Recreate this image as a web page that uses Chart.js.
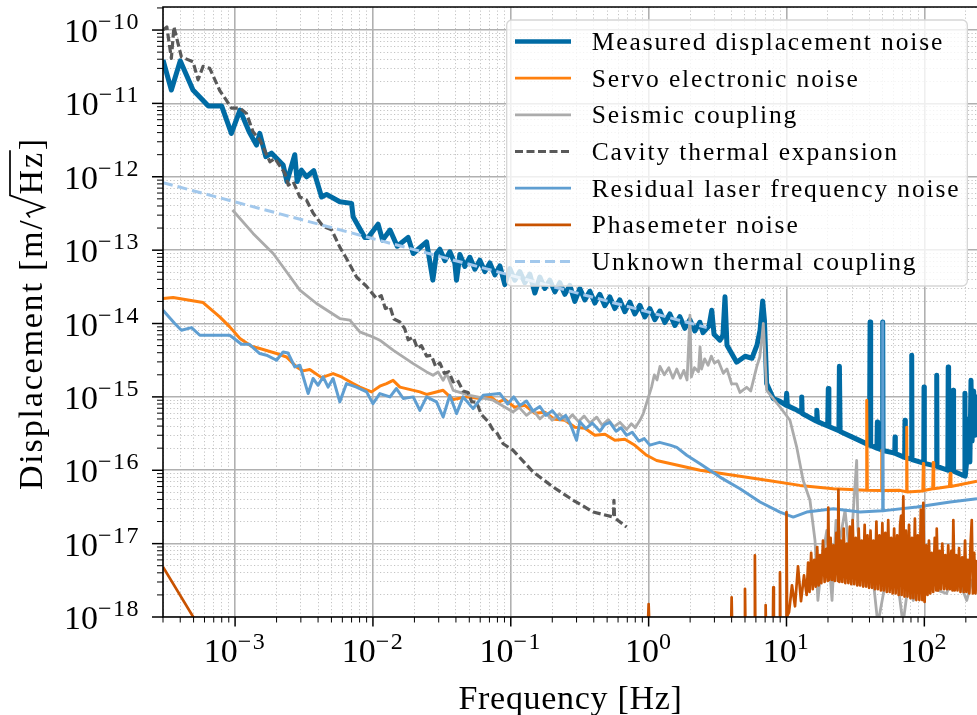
<!DOCTYPE html>
<html>
<head>
<meta charset="utf-8">
<script src="https://cdn.jsdelivr.net/npm/chart.js@4.4.1/dist/chart.umd.min.js"></script>
<style>
html, body { margin: 0; padding: 0; background: #fff; overflow: hidden; }
</style>
</head>
<body>
<canvas id="noiseChart" width="977" height="715"></canvas>
<script>
// axis ranges and tick labels (powers of ten)
var xMin = 3e-4, xMax = 241;
var yMin = 1e-18, yMax = 2.06e-10;
var xTickExps = [-3, -2, -1, 0, 1, 2];
var yTickExps = [-18, -17, -16, -15, -14, -13, -12, -11, -10];
var minorSteps = [2, 3, 4, 5, 6, 7, 8, 9];

// [frequency Hz, displacement m/sqrt(Hz)]
var measured = [
	[3.0e-4, 3.9e-11], [3.45e-4, 1.52e-11], [4.0e-4, 3.8e-11], [4.95e-4, 1.52e-11], [6.4e-4, 9.2e-12],
	[8.0e-4, 9.2e-12], [9.4e-4, 3.9e-12], [1.085e-3, 8.1e-12], [1.265e-3, 4.1e-12], [1.43e-3, 2.7e-12],
	[1.51e-3, 3.9e-12], [1.67e-3, 1.88e-12], [1.84e-3, 2.1e-12], [2.23e-3, 1.45e-12], [2.38e-3, 8.6e-13],
	[2.71e-3, 2.0e-12], [2.82e-3, 8.6e-13], [3.03e-3, 1.23e-12], [3.30e-3, 1.0e-12], [3.72e-3, 1.21e-12],
	[4.24e-3, 5.3e-13], [4.61e-3, 5.75e-13], [5.75e-3, 4.56e-13], [7.0e-3, 4.34e-13], [7.18e-3, 2.85e-13],
	[8.73e-3, 1.49e-13], [9.23e-3, 1.49e-13], [1.09e-2, 2.26e-13], [1.175e-2, 1.37e-13], [1.33e-2, 1.88e-13],
	[1.50e-2, 1.13e-13], [1.80e-2, 1.49e-13], [1.96e-2, 9.0e-14], [2.45e-2, 1.30e-13], [2.72e-2, 3.9e-14],
	[2.89e-2, 9.0e-14], [3.058e-2, 1.03e-13], [3.324e-2, 7.2e-14], [3.614e-2, 9.5e-14], [3.929e-2, 6.6e-14],
	[4.04e-2, 3.9e-14], [4.271e-2, 8.7e-14], [4.643e-2, 6.0e-14], [5.047e-2, 8.0e-14], [5.487e-2, 5.5e-14],
	[5.965e-2, 7.3e-14], [6.484e-2, 5.1e-14], [7.049e-2, 6.7e-14], [7.663e-2, 4.6e-14], [8.331e-2, 6.1e-14],
	[9.056e-2, 3.4e-14], [9.845e-2, 5.6e-14], [0.107, 3.9e-14], [0.1163, 5.1e-14], [0.1265, 3.6e-14],
	[0.1375, 4.7e-14], [0.1495, 2.6e-14], [0.1625, 4.3e-14], [0.1766, 3.0e-14], [0.192, 3.9e-14],
	[0.2087, 2.7e-14], [0.2269, 3.6e-14], [0.2467, 2.5e-14], [0.2682, 3.3e-14], [0.2915, 2.0e-14],
	[0.3169, 3.0e-14], [0.3445, 2.1e-14], [0.3745, 2.75e-14], [0.4071, 1.9e-14], [0.4426, 2.5e-14],
	[0.4811, 1.75e-14], [0.523, 2.3e-14], [0.5686, 1.6e-14], [0.6181, 2.1e-14], [0.6719, 1.45e-14],
	[0.7305, 1.95e-14], [0.7941, 1.35e-14], [0.8633, 1.77e-14], [0.9385, 1.23e-14], [1.02, 1.6e-14],
	[1.109, 1.13e-14], [1.206, 1.48e-14], [1.311, 1.03e-14], [1.425, 1.35e-14], [1.549, 9.4e-15],
	[1.684, 1.24e-14], [1.831, 8.6e-15], [1.99, 1.13e-14], [2.163, 7.9e-15], [2.352, 1.04e-14],
	[2.48, 7.5e-15], [2.74, 9.2e-15], [2.87, 1.52e-14], [2.98, 7.15e-15], [3.29, 5.92e-15],
	[3.46, 6.92e-15], [3.58, 2.31e-14], [3.70, 5.06e-15], [4.35, 2.97e-15], [5.01, 3.58e-15],
	[5.62, 3.36e-15], [6.11, 5.06e-15], [6.43, 8.1e-15], [6.72, 2.03e-14], [6.92, 1.11e-14],
	[7.18, 1.52e-15], [8.02, 9.5e-16], [8.97, 8.7e-16], [9.9, 7.7e-16], [10.03, 1.12e-15],
	[10.15, 7.6e-16], [11.53, 6.8e-16], [12.8, 6.1e-16], [12.9, 1.0e-15], [13.0, 5.95e-16],
	[16.4, 4.7e-16], [16.6, 6.56e-16], [16.8, 4.6e-16], [19.9, 4.0e-16], [20.1, 1.3e-15],
	[20.3, 3.95e-16], [24.0, 3.45e-16], [24.2, 2.61e-15], [24.5, 3.38e-16], [31.4, 2.72e-16],
	[40.0, 2.2e-16], [40.4, 1.05e-14], [40.8, 2.18e-16], [45.3, 2.0e-16], [45.6, 4.54e-16],
	[45.9, 1.98e-16], [49.6, 1.88e-16], [49.9, 1.05e-14], [50.2, 1.86e-16], [61.0, 1.71e-16],
	[61.3, 2.84e-16], [61.6, 1.69e-16], [72.0, 1.5e-16], [72.4, 4.8e-16], [72.8, 1.49e-16],
	[80.6, 1.42e-16], [81.0, 3.7e-15], [81.4, 1.40e-16], [99.0, 1.25e-16], [99.5, 1.36e-15],
	[100.0, 1.24e-16], [122.4, 1.14e-16], [123, 1.97e-15], [123.6, 1.13e-16], [148, 1.0e-16],
	[149, 2.56e-15], [150, 1.0e-16], [161, 9.8e-17], [162, 1.23e-15], [163, 9.7e-17],
	[196, 8.35e-17], [197, 1.12e-15], [198, 8.3e-17], [205, 1.6e-16], [210, 5e-16],
	[214, 1.3e-16], [218, 1.68e-15], [222, 2.5e-16], [228, 1.2e-15], [233, 3e-16],
	[238, 1.0e-15], [241, 5e-16]
];

var servo = [
	[3.0e-4, 2.19e-14], [3.55e-4, 2.26e-14], [5.86e-4, 1.93e-14], [7.74e-4, 1.23e-14], [9.15e-4, 9.0e-15],
	[1.085e-3, 6.24e-15], [1.315e-3, 4.9e-15], [1.51e-3, 4.56e-15], [2.0e-3, 3.9e-15], [2.36e-3, 3.5e-15],
	[2.79e-3, 2.56e-15], [3.11e-3, 2.26e-15], [3.48e-3, 2.36e-15], [4.24e-3, 1.83e-15], [5.14e-3, 2.08e-15],
	[5.92e-3, 1.87e-15], [7.18e-3, 1.52e-15], [8.03e-3, 1.36e-15], [9.77e-3, 1.17e-15], [1.122e-2, 1.40e-15],
	[1.255e-2, 1.52e-15], [1.40e-2, 1.68e-15], [1.57e-2, 1.36e-15], [2.19e-2, 1.17e-15], [2.45e-2, 1.08e-15],
	[3.23e-2, 1.23e-15], [3.82e-2, 9.2e-16], [4.78e-2, 1.0e-15], [5.97e-2, 9.5e-16], [7.05e-2, 1.02e-15],
	[8.06e-2, 8.43e-16], [9.06e-2, 9.27e-16], [0.107, 7.21e-16], [0.1265, 7.68e-16], [0.1496, 5.97e-16],
	[0.1768, 6.17e-16], [0.209, 4.94e-16], [0.247, 4.8e-16], [0.292, 3.85e-16], [0.345, 3.73e-16],
	[0.407, 3.0e-16], [0.482, 3.09e-16], [0.569, 2.56e-16], [0.672, 2.64e-16], [0.795, 2.19e-16],
	[0.967, 1.6e-16], [1.143, 1.36e-16], [2.36, 1.0e-16], [4.11, 8.55e-17], [7.18, 7.3e-17],
	[12.5, 6.22e-17], [21.9, 5.6e-17], [37.8, 5.32e-17], [38.2, 9.0e-16], [38.6, 5.32e-17],
	[48.7, 5.3e-17], [49.1, 1.87e-16], [49.5, 5.3e-17], [66.6, 5.32e-17], [74.0, 5.1e-17],
	[74.5, 3.85e-16], [75.0, 5.05e-17], [97.5, 5.2e-17], [98.3, 1.24e-16], [99.0, 5.3e-17],
	[115, 5.6e-17], [116, 1.28e-16], [117, 5.6e-17], [152, 6.0e-17], [154, 9.1e-17],
	[156, 6.0e-17], [241, 7.08e-17]
];

var seismic = [
	[9.58e-4, 3.52e-13], [1.35e-3, 1.69e-13], [1.89e-3, 9.0e-14], [2.23e-3, 5.9e-14], [2.95e-3, 2.85e-14],
	[3.9e-3, 1.875e-14], [5.75e-3, 1.17e-14], [6.8e-3, 1.11e-14], [8.03e-3, 7.68e-15], [1.0e-2, 6.56e-15],
	[1.122e-2, 5.92e-15], [1.40e-2, 4.33e-15], [1.96e-2, 2.84e-15], [2.45e-2, 2.19e-15], [2.73e-2, 1.97e-15],
	[2.97e-2, 2.19e-15], [3.23e-2, 1.68e-15], [3.42e-2, 2.08e-15], [3.82e-2, 1.23e-15], [5.05e-2, 1.05e-15],
	[7.45e-2, 9.0e-16], [0.104, 6.23e-16], [0.115, 7.2e-16], [0.13, 5.6e-16], [0.145, 6.6e-16],
	[0.1626, 5.0e-16], [0.18, 6.0e-16], [0.2, 4.8e-16], [0.225, 5.9e-16], [0.254, 4.7e-16],
	[0.28, 5.7e-16], [0.31, 4.6e-16], [0.34, 5.5e-16], [0.375, 4.4e-16], [0.42, 5.3e-16],
	[0.46, 4.1e-16], [0.51, 4.9e-16], [0.56, 3.9e-16], [0.62, 4.5e-16], [0.692, 3.6e-16],
	[0.75, 4.3e-16], [0.8, 3.8e-16], [0.865, 4.8e-16], [0.914, 5.92e-16], [1.05, 1.36e-15],
	[1.1, 2.0e-15], [1.15, 1.7e-15], [1.208, 2.6e-15], [1.3, 2.0e-15], [1.4, 2.5e-15],
	[1.5, 1.8e-15], [1.6, 2.4e-15], [1.7, 1.8e-15], [1.8, 2.3e-15], [1.9, 1.7e-15],
	[1.994, 1.3e-14], [2.04, 1.87e-15], [2.15, 2.5e-15], [2.3, 2.2e-15], [2.36, 4.8e-15],
	[2.42, 2.4e-15], [2.55, 3.3e-15], [2.7, 2.7e-15], [2.85, 3.6e-15], [3.0, 2.9e-15],
	[3.2, 3.1e-15], [3.48, 2.1e-15], [3.7, 2.4e-15], [4.0, 1.5e-15], [4.35, 1.5e-15],
	[4.6, 1.15e-15], [5.14, 1.35e-15], [5.5, 1.2e-15], [6.08, 2.56e-15], [6.4, 3.5e-15],
	[6.61, 5.92e-15], [6.79, 1.0e-14], [7.18, 1.23e-15], [8.97, 7.28e-16], [10.6, 4.8e-16],
	[11.86, 2.07e-16], [13.2, 7.3e-17], [14.8, 3.9e-17], [16.1, 1.11e-17], [16.9, 1.68e-18],
	[18.09, 5.94e-18], [19.6, 1.51e-17], [21.4, 1.68e-18], [22.87, 2.08e-17], [24.4, 1.11e-17],
	[26.6, 2.86e-17], [28.9, 5.94e-18], [32.3, 1.36e-16], [33.0, 1.52e-17], [35.9, 3.7e-18],
	[39.0, 1.11e-17], [42.6, 3.16e-18], [46.0, 8e-19], [51.0, 2.31e-18], [56.4, 5.94e-18],
	[63.0, 3.92e-18], [70.0, 8e-19], [76.2, 2.71e-18], [83.2, 1.68e-18], [93.1, 3.7e-18],
	[110, 7.35e-18], [125.7, 2.31e-18], [145, 2.09e-18], [167, 4.34e-18], [203, 1.68e-18],
	[222, 3.16e-18], [241, 3.92e-18]
];

var cavity = [
	[3.0e-4, 1.0e-10], [3.2e-4, 1.1e-10], [3.45e-4, 4.1e-11], [3.6e-4, 1.1e-10], [4.08e-4, 4.3e-11],
	[4.95e-4, 3.7e-11], [5.39e-4, 2.1e-11], [5.86e-4, 3.2e-11], [6.55e-4, 3.0e-11], [7.74e-4, 1.5e-11],
	[8.66e-4, 1.1e-11], [9.41e-4, 8.6e-12], [1.085e-3, 8.6e-12], [1.21e-3, 7.3e-12], [1.35e-3, 4.1e-12],
	[1.51e-3, 3.2e-12], [1.79e-3, 1.6e-12], [1.94e-3, 1.78e-12], [2.30e-3, 1.11e-12], [2.43e-3, 7.7e-13],
	[2.64e-3, 8.55e-13], [2.95e-3, 5.3e-13], [3.30e-3, 4.8e-13], [3.68e-3, 3.2e-13], [4.35e-3, 2.1e-13],
	[5.01e-3, 1.9e-13], [5.75e-3, 1.1e-13], [6.43e-3, 7.7e-14], [7.6e-3, 4.3e-14], [9.0e-3, 3.2e-14],
	[1.06e-2, 2.2e-14], [1.15e-2, 2.4e-14], [1.23e-2, 1.6e-14], [1.33e-2, 1.7e-14], [1.42e-2, 1.15e-14],
	[1.57e-2, 1.05e-14], [1.7e-2, 8.5e-15], [1.8e-2, 6.0e-15], [1.96e-2, 6.5e-15], [2.1e-2, 4.6e-15],
	[2.25e-2, 5.0e-15], [2.45e-2, 3.6e-15], [2.65e-2, 3.7e-15], [2.85e-2, 2.6e-15], [3.06e-2, 2.9e-15],
	[3.3e-2, 2.1e-15], [3.55e-2, 2.2e-15], [3.82e-2, 1.6e-15], [4.1e-2, 1.7e-15], [4.51e-2, 1.2e-15],
	[4.9e-2, 1.15e-15], [5.2e-2, 8.6e-16], [5.65e-2, 8.4e-16], [6.1e-2, 5.8e-16], [6.86e-2, 4.6e-16],
	[7.4e-2, 3.6e-16], [7.88e-2, 3.3e-16], [8.8e-2, 2.3e-16], [0.104, 1.87e-16], [0.145, 9.5e-17],
	[0.203, 5.9e-17], [0.284, 3.9e-17], [0.396, 2.7e-17], [0.556, 2.3e-17], [0.56, 3.9e-17],
	[0.566, 2.25e-17], [0.692, 1.68e-17]
];

var residual = [
	[3.0e-4, 1.52e-14], [3.65e-4, 1.0e-14], [4.08e-4, 8.1e-15], [4.83e-4, 8.8e-15], [5.55e-4, 6.92e-15],
	[9.15e-4, 6.92e-15], [1.113e-3, 5.22e-15], [1.264e-3, 5.22e-15], [1.51e-3, 3.9e-15], [1.69e-3, 3.7e-15],
	[2.0e-3, 3.16e-15], [2.23e-3, 4.1e-15], [2.42e-3, 3.97e-15], [2.71e-3, 2.56e-15], [2.95e-3, 2.7e-15],
	[3.39e-3, 1.11e-15], [3.68e-3, 1.78e-15], [4.0e-3, 1.44e-15], [4.35e-3, 1.87e-15], [4.73e-3, 1.36e-15],
	[5.14e-3, 1.78e-15], [5.75e-3, 8.55e-16], [6.43e-3, 1.52e-15], [7.6e-3, 1.36e-15], [9.0e-3, 1.17e-15],
	[1.0e-2, 8.1e-16], [1.122e-2, 1.11e-15], [1.33e-2, 1.0e-15], [1.48e-2, 1.30e-15], [1.66e-2, 9.5e-16],
	[1.96e-2, 1.0e-15], [2.19e-2, 6.56e-16], [2.45e-2, 1.0e-15], [2.89e-2, 8.55e-16], [3.23e-2, 5.32e-16],
	[3.61e-2, 1.05e-15], [4.04e-2, 5.92e-16], [4.51e-2, 1.0e-15], [5.33e-2, 6.92e-16], [6.3e-2, 1.05e-15],
	[8.34e-2, 1.11e-15], [0.095, 8.0e-16], [0.105, 1.0e-15], [0.1164, 7.6e-16], [0.13, 8.8e-16],
	[0.145, 6.4e-16], [0.1626, 7.4e-16], [0.18, 5.6e-16], [0.2, 6.5e-16], [0.227, 4.9e-16],
	[0.25, 5.6e-16], [0.27, 4.3e-16], [0.30, 2.56e-16], [0.317, 4.6e-16], [0.35, 3.7e-16],
	[0.39, 4.4e-16], [0.443, 3.4e-16], [0.48, 4.2e-16], [0.524, 4.5e-16], [0.58, 3.4e-16],
	[0.63, 3.8e-16], [0.692, 3.0e-16], [0.76, 3.3e-16], [0.85, 2.5e-16], [0.93, 2.7e-16],
	[1.02, 2.2e-16], [1.2, 2.4e-16], [1.43, 2.2e-16], [1.6, 2.05e-16], [1.89, 1.6e-16],
	[2.36, 1.23e-16], [3.29, 8.07e-17], [4.6, 5.6e-17], [6.43, 3.69e-17], [8.97, 2.69e-17],
	[11.2, 2.3e-17], [14.0, 2.69e-17], [21.9, 2.99e-17], [34.2, 2.69e-17], [49.5, 2.8e-17],
	[49.9, 1.05e-14], [50.3, 2.8e-17], [53.3, 2.84e-17], [88.1, 3.15e-17], [154, 3.69e-17],
	[241, 4.1e-17]
];

var phasemeter = [
	[3.0e-4, 4.8e-18], [6.3e-4, 4.8e-19], [0.98, 4.8e-19], [1.0, 1.5e-18], [1.02, 4.8e-19],
	[3.95, 4.8e-19], [4.0, 1.86e-18], [4.05, 4.8e-19], [4.95, 4.8e-19], [5.0, 2.42e-18],
	[5.05, 4.8e-19], [5.85, 4.8e-19], [5.9, 6.9e-18], [5.95, 4.8e-19], [7.0, 4.8e-19],
	[7.06, 1.45e-18], [7.12, 4.8e-19], [7.95, 4.8e-19], [8.02, 2.54e-18], [8.1, 4.8e-19],
	[8.9, 4.8e-19], [8.97, 4.07e-18], [9.05, 4.8e-19], [9.95, 4.8e-19], [10.0, 2.69e-17],
	[10.1, 1.02e-18], [10.43, 1.16e-18], [10.96, 2.71e-18], [11.53, 1.40e-18], [12.12, 4.92e-18],
	[12.74, 1.64e-18], [13.4, 3.7e-18], [14.0, 2.0e-18], [14.35, 5.5e-18], [14.7, 2.2e-18],
	[15.1, 7.5e-18], [15.5, 2.4e-18], [15.9, 6.0e-18], [16.3, 2.6e-18], [16.7, 9.0e-18],
	[17.1, 2.7e-18], [17.5, 7.0e-18], [17.9, 2.9e-18], [18.4, 1.1e-17], [18.9, 3.0e-18],
	[19.4, 8.5e-18], [19.9, 3.1e-18], [20.1, 3.1e-17], [20.4, 3.2e-18], [20.9, 1.2e-17],
	[21.4, 3.2e-18], [21.9, 9.5e-18], [22.4, 3.1e-18], [23.0, 1.4e-17], [23.6, 3.1e-18],
	[23.8, 5.4e-17], [24.2, 3.0e-18], [24.8, 1.1e-17], [25.4, 3.0e-18], [26.0, 1.6e-17],
	[26.7, 2.9e-18], [27.4, 1.0e-17], [28.1, 2.9e-18], [28.8, 1.7e-17], [29.5, 2.8e-18],
	[30.2, 2.1e-17], [31.0, 2.8e-18], [31.8, 1.2e-17], [32.6, 2.7e-18], [33.4, 1.6e-17],
	[34.2, 2.7e-18], [35.1, 1.1e-17], [36.0, 2.6e-18], [36.9, 1.8e-17], [37.8, 2.6e-18],
	[38.7, 1.3e-17], [39.7, 2.5e-18], [40.7, 1.5e-17], [41.7, 2.5e-18], [42.7, 1.1e-17],
	[43.8, 2.4e-18], [44.9, 2.0e-17], [46.0, 2.4e-18], [47.2, 1.3e-17], [48.4, 2.3e-18],
	[49.6, 1.9e-17], [50.8, 2.3e-18], [52.1, 1.4e-17], [53.4, 2.2e-18], [54.7, 2.1e-17],
	[56.1, 2.2e-18], [57.5, 1.2e-17], [58.9, 2.1e-18], [60.4, 1.6e-17], [61.9, 2.1e-18],
	[63.5, 1.3e-17], [65.1, 2.0e-18], [66.7, 1.8e-17], [67.8, 2.4e-17], [68.4, 2.0e-18],
	[70.4, 4.4e-17], [71.8, 1.9e-18], [73.6, 1.5e-17], [75.5, 1.9e-18], [77.4, 1.8e-17],
	[79.3, 1.8e-18], [81.3, 1.2e-17], [83.3, 1.8e-18], [85.4, 2.2e-17], [87.5, 1.7e-18],
	[89.7, 1.3e-17], [92.0, 1.7e-18], [94.3, 2.9e-17], [96.6, 1.7e-18], [98.3, 3.6e-17],
	[100.5, 1.6e-18], [103, 9.5e-18], [105.5, 2.0e-18], [108, 1.1e-17], [110.5, 2.1e-18],
	[113, 7.5e-18], [116, 2.2e-18], [119, 1.2e-17], [122, 2.3e-18], [123, 1.6e-17],
	[126, 2.3e-18], [129, 8e-18], [132, 2.4e-18], [135, 1.0e-17], [139, 2.4e-18],
	[142, 7e-18], [146, 2.4e-18], [149, 9.5e-18], [153, 2.4e-18], [157, 8e-18],
	[160, 2.3e-18], [162.3, 2.1e-17], [166, 2.3e-18], [170, 7e-18], [174, 2.3e-18],
	[178.6, 8.7e-18], [183, 2.2e-18], [188, 6.5e-18], [193, 2.2e-18], [197.4, 1.1e-17],
	[202, 2.2e-18], [207, 6e-18], [212, 2.1e-18], [216, 9e-18], [220.8, 2.1e-17],
	[225, 2.1e-18], [230, 7.5e-18], [235, 2.1e-18], [241, 6e-18]
];

var unknownThermal = [[3.0e-4, 8.3e-13], [2.64, 8.8e-15]];

var serif = '"Liberation Serif", "Times New Roman", serif';

function toXY(list) {
	return list.map(function (p) { return { x: p[0], y: p[1] }; });
}

function logTicks(lo, hi) {
	var out = [];
	var e0 = Math.floor(Math.log10(lo)), e1 = Math.ceil(Math.log10(hi));
	for (var e = e0; e <= e1; e++) {
		[1].concat(minorSteps).forEach(function (m) {
			var v = m * Math.pow(10, e);
			if (v >= lo * 0.999 && v <= hi * 1.001) out.push({ value: v, major: m === 1 });
		});
	}
	return out;
}

function isMajor(c) { return c.tick && c.tick.major; }

function axisOpts(lo, hi) {
	return {
		type: 'logarithmic',
		min: lo,
		max: hi,
		afterBuildTicks: function (scale) { scale.ticks = logTicks(lo, hi); },
		ticks: { display: false },
		border: {
			display: false,
			dash: function (c) { return isMajor(c) ? [] : [1.2, 2.3]; }
		},
		grid: {
			drawTicks: false,
			color: function (c) { return isMajor(c) ? '#b0b0b0' : '#c4c4c4'; },
			lineWidth: function (c) { return isMajor(c) ? 1.6 : 1; }
		}
	};
}

// label text with a superscript power of ten
function drawPow(ctx, exp, x, y, centered) {
	var sup = (exp < 0 ? '\u2212' : '') + Math.abs(exp);
	ctx.font = '34px ' + serif;
	ctx.letterSpacing = '0px';
	var w1 = ctx.measureText('10').width;
	ctx.font = '24px ' + serif;
	ctx.letterSpacing = '1.5px';
	var w2 = ctx.measureText(sup).width;
	var left = centered ? x - (w1 + w2) / 2 : x - w1 - w2;
	ctx.fillText(sup, left + w1, y - 13);
	ctx.font = '34px ' + serif;
	ctx.letterSpacing = '0px';
	ctx.fillText('10', left, y);
}

function fitText(ctx, text, target) {
	ctx.letterSpacing = '0px';
	var w = ctx.measureText(text).width;
	ctx.letterSpacing = ((target - w) / text.length) + 'px';
}

var framePlugin = {
	id: 'frame',
	afterDraw: function (chart) {
		var ctx = chart.ctx, a = chart.chartArea;
		var xs = chart.scales.x, ys = chart.scales.y;
		ctx.save();

		// legend box
		var bx = 506.7, by = 20, bw = 460.6, bh = 266, r = 5;
		ctx.beginPath();
		ctx.moveTo(bx + r, by);
		ctx.arcTo(bx + bw, by, bx + bw, by + bh, r);
		ctx.arcTo(bx + bw, by + bh, bx, by + bh, r);
		ctx.arcTo(bx, by + bh, bx, by, r);
		ctx.arcTo(bx, by, bx + bw, by, r);
		ctx.closePath();
		ctx.fillStyle = 'rgba(255,255,255,0.8)';
		ctx.fill();
		ctx.strokeStyle = '#d6d6d6';
		ctx.lineWidth = 1.3;
		ctx.stroke();

		ctx.font = '25.5px ' + serif;
		fitText(ctx, 'Measured displacement noise', 352.6);
		var spacing = ctx.letterSpacing;
		chart.data.datasets.forEach(function (ds, i) {
			var base = 50 + i * 36.67;
			ctx.setLineDash(ds.borderDash || []);
			ctx.strokeStyle = ds.borderColor;
			ctx.lineWidth = ds.legendWidth;
			ctx.beginPath();
			ctx.moveTo(515, base - 8.5);
			ctx.lineTo(571, base - 8.5);
			ctx.stroke();
			ctx.setLineDash([]);
			ctx.fillStyle = '#000';
			ctx.letterSpacing = spacing;
			ctx.fillText(ds.label, 591.7, base);
		});

		// spines
		ctx.strokeStyle = '#000';
		ctx.lineWidth = 1.6;
		ctx.beginPath();
		ctx.moveTo(a.right + 2, a.top);
		ctx.lineTo(a.left, a.top);
		ctx.lineTo(a.left, a.bottom);
		ctx.lineTo(a.right + 2, a.bottom);
		ctx.stroke();

		// tick marks
		xs.ticks.forEach(function (t) {
			var px = xs.getPixelForValue(t.value);
			if (px < a.left - 0.5 || px > a.right + 0.5) return;
			ctx.lineWidth = t.major ? 1.5 : 1;
			ctx.beginPath();
			ctx.moveTo(px, a.bottom);
			ctx.lineTo(px, a.bottom + (t.major ? 9.5 : 5.5));
			ctx.stroke();
		});
		ys.ticks.forEach(function (t) {
			var py = ys.getPixelForValue(t.value);
			if (py < a.top - 0.5 || py > a.bottom + 0.5) return;
			ctx.lineWidth = t.major ? 1.5 : 1;
			ctx.beginPath();
			ctx.moveTo(a.left, py);
			ctx.lineTo(a.left - (t.major ? 11 : 6), py);
			ctx.stroke();
		});

		// tick labels
		ctx.fillStyle = '#000';
		ctx.textBaseline = 'alphabetic';
		xTickExps.forEach(function (e) {
			drawPow(ctx, e, xs.getPixelForValue(Math.pow(10, e)), 662, true);
		});
		yTickExps.forEach(function (e) {
			drawPow(ctx, e, 140, ys.getPixelForValue(Math.pow(10, e)) + 12, false);
		});

		// x title
		ctx.font = '34px ' + serif;
		fitText(ctx, 'Frequency [Hz]', 224);
		ctx.textAlign = 'center';
		ctx.fillText('Frequency [Hz]', 570.5, 709);
		ctx.textAlign = 'left';

		// y title with a drawn radical over Hz
		ctx.save();
		ctx.translate(42, 314);
		ctx.rotate(-Math.PI / 2);
		ctx.font = '34px ' + serif;
		var p1 = 'Displacement [m/', p2 = 'Hz', p3 = ']';
		fitText(ctx, p1 + p2 + p3, 352 - 24);
		var w1 = ctx.measureText(p1).width, w2 = ctx.measureText(p2).width;
		var w3 = ctx.measureText(p3).width;
		var radW = 24;
		var x0 = -(w1 + radW + w2 + w3) / 2;
		ctx.fillText(p1, x0, 0);
		var rx = x0 + w1;
		ctx.lineWidth = 1.7;
		ctx.lineJoin = 'miter';
		ctx.beginPath();
		ctx.moveTo(rx + 1, -12);
		ctx.lineTo(rx + 5, -15);
		ctx.lineTo(rx + 11, 2);
		ctx.lineTo(rx + radW - 1, -32);
		ctx.lineTo(rx + radW + w2 + 1, -32);
		ctx.stroke();
		ctx.fillText(p2, rx + radW, 0);
		ctx.fillText(p3, rx + radW + w2 + 1, 0);
		ctx.restore();

		ctx.restore();
	}
};

function series(label, list, color, width, handle, dash, order) {
	return {
		label: label,
		data: toXY(list),
		borderColor: color,
		backgroundColor: color,
		borderWidth: width,
		legendWidth: handle,
		borderDash: dash,
		borderJoinStyle: 'round',
		showLine: true,
		pointRadius: 0,
		pointHoverRadius: 0,
		fill: false,
		tension: 0,
		order: order
	};
}

var ctx = document.getElementById('noiseChart').getContext('2d');
var noiseChart = new Chart(ctx, {
	type: 'scatter',
	data: {
		datasets: [
			series('Measured displacement noise', measured, '#006BA4', 5, 4.3, [], 7),
			series('Servo electronic noise', servo, '#FF800E', 3, 2.7, [], 6),
			series('Seismic coupling', seismic, '#ABABAB', 2.8, 2.7, [], 5),
			series('Cavity thermal expansion', cavity, '#595959', 3.2, 2.8, [8, 3.5], 4),
			series('Residual laser frequency noise', residual, '#5F9ED1', 3, 2.7, [], 3),
			series('Phasemeter noise', phasemeter, '#C85200', 2.7, 2.7, [], 2),
			series('Unknown thermal coupling', unknownThermal, '#A2C8EC', 3, 2.8, [10, 5], 1)
		]
	},
	options: {
		responsive: false,
		devicePixelRatio: 1,
		animation: false,
		layout: { padding: { left: 163, top: 7, right: 0, bottom: 98 } },
		scales: {
			x: axisOpts(xMin, xMax),
			y: axisOpts(yMin, yMax)
		},
		plugins: {
			legend: { display: false },
			tooltip: { enabled: false }
		}
	},
	plugins: [framePlugin]
});
</script>
</body>
</html>
